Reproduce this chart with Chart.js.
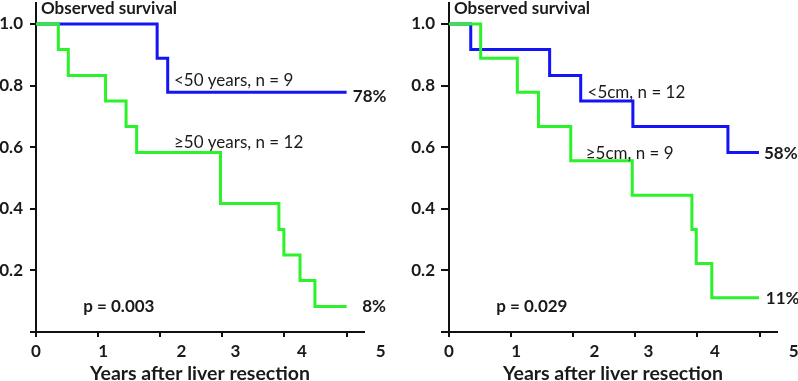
<!DOCTYPE html>
<html lang="en">
<head>
<meta charset="UTF-8">
<title>Observed survival</title>
<script src="https://cdn.jsdelivr.net/npm/chart.js"></script>
<style>
  body { margin: 0; background: #fff; }
  .panel { position: absolute; top: 0; }
</style>
</head>
<body>
<div class="panel" style="left:0"><canvas id="ageChart" width="400" height="381"></canvas></div>
<div class="panel" style="left:400px"><canvas id="sizeChart" width="398" height="381"></canvas></div>

<script>
// x tick labels and where they sit (in years) - the original figure has them offset from the tick marks
const xTickLabels = ['0', '1', '2', '3', '4', '5'];
const xLabelAt = [0.0, 1.08, 2.34, 3.21, 4.28, 5.55];

// Age groups: Kaplan-Meier steps (years, survival)
const youngTimes = [0, 1.95, 2.12, 5.0];
const youngSurv  = [1, 0.889, 0.778, 0.778];
const oldTimes = [0, 0.36, 0.52, 1.12, 1.45, 1.62, 2.97, 3.91, 3.99, 4.25, 4.49, 5.0];
const oldSurv  = [1, 0.917, 0.833, 0.75, 0.667, 0.583, 0.417, 0.333, 0.25, 0.167, 0.083, 0.083];

// Tumour size groups
const smallTimes = [0, 0.35, 1.62, 2.12, 2.96, 4.49, 4.99];
const smallSurv  = [1, 0.917, 0.833, 0.75, 0.667, 0.583, 0.583];
const largeTimes = [0, 0.51, 1.10, 1.44, 1.96, 2.95, 3.91, 3.98, 4.23, 4.99];
const largeSurv  = [1, 0.889, 0.778, 0.667, 0.556, 0.444, 0.333, 0.222, 0.111, 0.111];

const FONT = 'Lato';
const INK = '#1a1a1a';
const BLUE = '#1414f5';
const GREEN = '#2cf22c';

const toPoints = (times, surv) => times.map((t, i) => ({ x: t, y: surv[i] }));

// draws the panel heading and the in-plot notes at data positions
const notesPlugin = {
    id: 'kmNotes',
    afterDatasetsDraw(chart, args, opts) {
        const { ctx, chartArea } = chart;
        const xs = chart.scales.x, ys = chart.scales.y;
        ctx.save();
        ctx.fillStyle = INK;
        ctx.textBaseline = 'middle';
        ctx.textAlign = 'left';
        ctx.font = `bold 17px ${FONT}`;
        ctx.fillText('Observed survival', chartArea.left + 5, 9);
        opts.notes.forEach(n => {
            ctx.font = `${n.bold ? 'bold ' : ''}17px ${FONT}`;
            ctx.fillText(n.text, xs.getPixelForValue(n.x), ys.getPixelForValue(n.y));
        });
        ctx.restore();
    }
};

const makeChart = (id, series, notes, axisWidth, padRight, yTickLen, yPad) => {
    const tickFont = { family: FONT, size: 17, weight: 'bold' };
    return new Chart(document.getElementById(id), {
        type: 'line',
        data: {
            datasets: series.map(s => ({
                data: s.points,
                borderColor: s.color,
                borderWidth: 3,
                pointRadius: 0,
                stepped: true,
                fill: false,
                xAxisID: 'x',
                yAxisID: 'y'
            }))
        },
        options: {
            responsive: false,
            animation: false,
            devicePixelRatio: 1,
            layout: { padding: { left: 0, right: padRight, top: 3, bottom: 0 } },
            plugins: {
                legend: { display: false },
                tooltip: { enabled: false },
                kmNotes: { notes: notes }
            },
            scales: {
                x: {
                    type: 'linear', min: 0, max: 5.28,
                    border: { color: '#111', width: 2 },
                    grid: { drawOnChartArea: false, color: '#111', lineWidth: 2, tickLength: 5 },
                    ticks: { stepSize: 1, includeBounds: false, display: false },
                    afterFit: s => { s.height = 5; s.paddingLeft = 0; s.paddingRight = 0; }
                },
                xl: {
                    type: 'linear', position: 'bottom', min: 0, max: 5.28,
                    border: { display: false },
                    grid: { display: false, drawTicks: false },
                    ticks: {
                        autoSkip: false, maxRotation: 0, padding: 4, color: INK, font: tickFont,
                        callback: (v, i) => xTickLabels[i]
                    },
                    afterBuildTicks: s => { s.ticks = xLabelAt.map(v => ({ value: v })); },
                    title: {
                        display: true, text: 'Years after liver resection', color: INK, padding: 0,
                        font: { family: FONT, size: 19.5, weight: 'bold', lineHeight: 0.75 }
                    },
                    afterFit: s => { s.height = 44; s.paddingLeft = 0; s.paddingRight = 0; }
                },
                y: {
                    type: 'linear', min: 0, max: 1.068,
                    border: { color: '#111', width: 2 },
                    grid: { drawOnChartArea: false, color: '#111', lineWidth: 2, tickLength: yTickLen },
                    ticks: {
                        stepSize: 0.2, includeBounds: false, padding: yPad, color: INK, font: tickFont,
                        callback: v => (v === 0 ? '' : v.toFixed(1))
                    },
                    afterFit: s => { s.width = axisWidth; s.paddingTop = 0; s.paddingBottom = 0; }
                }
            }
        },
        plugins: [notesPlugin]
    });
};

makeChart('ageChart', [
    { points: toPoints(oldTimes, oldSurv), color: GREEN },
    { points: toPoints(youngTimes, youngSurv), color: BLUE }
], [
    { text: '<50 years, n = 9', x: 2.22, y: 0.815 },
    { text: '\u226550 years, n = 12', x: 2.22, y: 0.614 },
    { text: '78%', x: 5.10, y: 0.766, bold: true },
    { text: '8%', x: 5.25, y: 0.084, bold: true },
    { text: 'p = 0.003', x: 0.76, y: 0.084, bold: true }
], 36, 36, 6, 7);

makeChart('sizeChart', [
    { points: toPoints(largeTimes, largeSurv), color: GREEN },
    { points: toPoints(smallTimes, smallSurv), color: BLUE }
], [
    { text: '<5cm, n = 12', x: 2.23, y: 0.776 },
    { text: '\u22655cm, n = 9', x: 2.20, y: 0.578 },
    { text: '58%', x: 5.07, y: 0.581, bold: true },
    { text: '11%', x: 5.10, y: 0.11, bold: true },
    { text: 'p = 0.029', x: 0.76, y: 0.084, bold: true }
], 49, 21, 8, 6);
</script>
</body>
</html>
